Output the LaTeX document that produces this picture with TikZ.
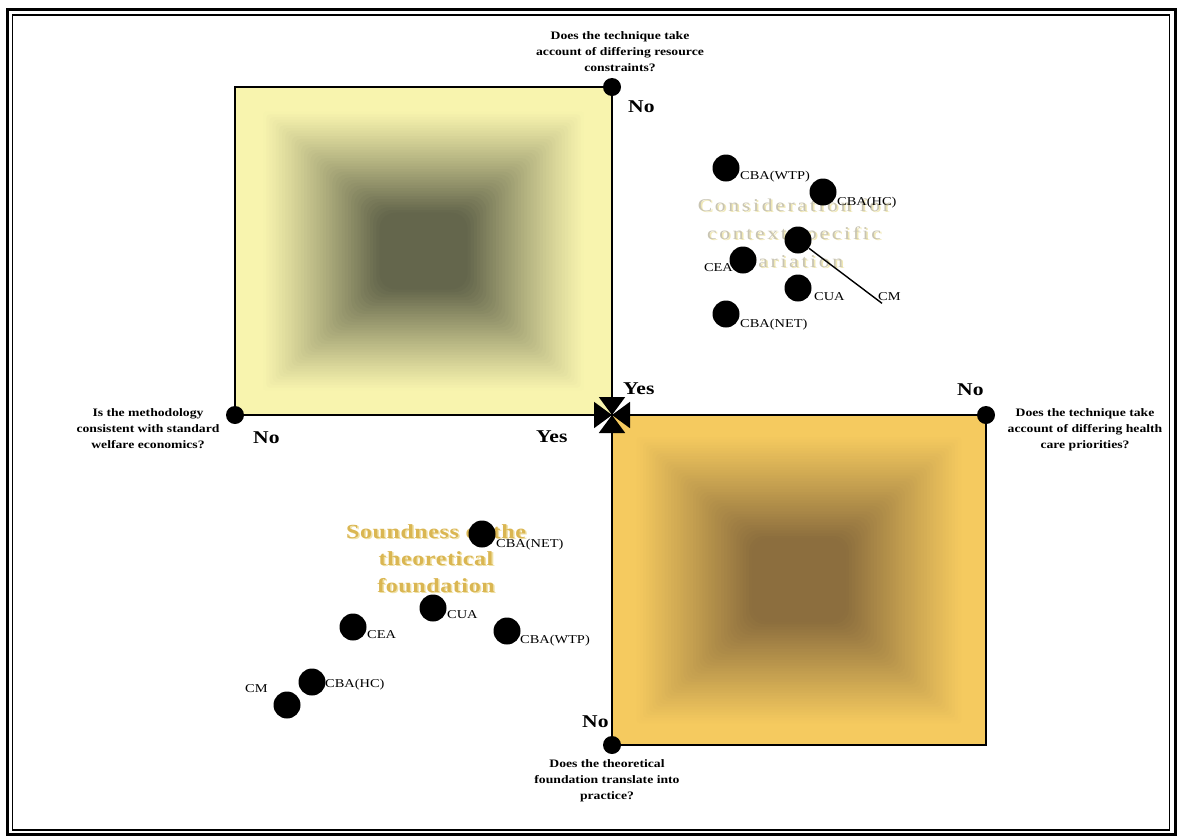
\documentclass[tikz,border=0pt]{standalone}
\usepackage{fontspec}
\setmainfont{Liberation Serif}[FakeStretch=1.2]
\usetikzlibrary{arrows.meta}
\definecolor{ullight}{RGB}{248,244,174}
\definecolor{uldark}{RGB}{100,102,76}
\definecolor{lrlight}{RGB}{245,202,95}
\definecolor{lrdark}{RGB}{140,110,62}
\definecolor{consText}{RGB}{200,196,178}
\definecolor{consShadow}{RGB}{240,232,180}
\definecolor{soundText}{RGB}{218,182,82}
\definecolor{soundShadow}{RGB}{240,225,165}
\begin{document}
\begin{tikzpicture}[x=1pt,y=-1pt,
  sq/.style={draw=black,line width=1.4pt},
  axdot/.style={circle,fill=black,inner sep=0pt,minimum size=18pt},
  dot/.style={circle,fill=black,inner sep=0pt,minimum size=27pt},
  lab/.style={inner sep=0pt,font=\fontsize{12}{12}\selectfont},
  yn/.style={inner sep=0pt,anchor=base west,font=\bfseries\fontsize{18}{18}\selectfont},
  q/.style={inner sep=0pt,align=center,anchor=north,font=\bfseries\fontsize{11.4}{16}\selectfont},
  axisline/.style={line width=2pt,-{Triangle[length=18pt,width=26pt]}},
  cons/.style={inner sep=0pt,align=center,anchor=north,font=\fontsize{18}{28}\selectfont\addfontfeature{LetterSpace=15}},
  sound/.style={inner sep=0pt,align=center,anchor=north,font=\bfseries\fontsize{20}{27}\selectfont\addfontfeature{LetterSpace=3}},
]
\useasboundingbox (0,0) rectangle (1181,836);
\fill[white] (0,0) rectangle (1181,836);
% frame
\draw[line width=3pt] (7,9.5) rectangle (1175,834);
\draw[line width=1.3pt] (12.5,15) rectangle (1169.5,830);

% upper-left square: soft square gradient
\coordinate (ulA) at (235,87);
\coordinate (ulC) at (612,415);
\foreach \i in {0,...,58}{
  \pgfmathsetmacro\s{min(max((\i/60-0.14)/0.62,0),1)}
  \pgfmathsetmacro\w{100*\s^1.1}
  \pgfmathsetmacro\r{min(0.35*\i,0.45*(164-\i*2.7333))}
  \fill[uldark!\w!ullight,rounded corners=\r pt]
    ({235+\i*3.1417},{87+\i*2.7333}) rectangle ({612-\i*3.1417},{415-\i*2.7333});
}
\draw[sq] (ulA) rectangle (ulC);

% lower-right square
\coordinate (lrA) at (612,415);
\coordinate (lrC) at (986,745);
\foreach \i in {0,...,58}{
  \pgfmathsetmacro\s{min(max((\i/60-0.12)/0.62,0),1)}
  \pgfmathsetmacro\w{100*\s^1.05}
  \pgfmathsetmacro\r{min(0.35*\i,0.45*(165-\i*2.75))}
  \fill[lrdark!\w!lrlight,rounded corners=\r pt]
    ({612+\i*3.1167},{415+\i*2.75}) rectangle ({986-\i*3.1167},{745-\i*2.75});
}
\draw[sq] (lrA) rectangle (lrC);

% axes
\coordinate (ctr) at (612,415);
\node[axdot] (top) at (612,87) {};
\node[axdot] (left) at (235,415) {};
\node[axdot] (right) at (986,415) {};
\node[axdot] (bottom) at (612,745) {};
\draw[axisline] (top) -- (ctr);
\draw[axisline] (left) -- (ctr);
\draw[axisline] (right) -- (ctr);
\draw[axisline] (bottom) -- (ctr);

% Yes / No labels
\node[yn] (noTop) at (628,112) {No};
\node[yn] (yesR) at (623,394) {Yes};
\node[yn] (noR) at (957,395) {No};
\node[yn] (noL) at (253,443) {No};
\node[yn] (yesL) at (536,442) {Yes};
\node[yn] (noB) at (582,727) {No};

% questions
\node[q] (qTop) at (620,31) {Does the technique take\\account of differing resource\\constraints?};
\node[q] (qLeft) at (148,408) {Is the methodology\\consistent with standard\\welfare economics?};
\node[q] (qRight) at (1085,408) {Does the technique take\\account of differing health\\care priorities?};
\node[q] (qBottom) at (607,759) {Does the theoretical\\foundation translate into\\practice?};

% embossed headings
\node[cons,text=consShadow] at (795.5,200) {Consideration for\\context specific\\variation};
\node[cons,text=consText] (consT) at (794,199) {Consideration for\\context specific\\variation};
\node[sound,text=soundShadow] at (437.5,525) {Soundness of the\\theoretical\\foundation};
\node[sound,text=soundText] (soundT) at (436,524) {Soundness of the\\theoretical\\foundation};

% upper-right cluster
\node[dot] (uWTP) at (726,168) {};
\node[lab,anchor=base west] at (740,179) {CBA(WTP)};
\node[dot] (uHC) at (823,192) {};
\node[lab,anchor=base west] at (837,205) {CBA(HC)};
\node[dot] (uCM) at (798,240) {};
\node[lab,anchor=base west] (uCMl) at (878,300) {CM};
\draw[line width=1.4pt] (uCM) -- ([xshift=4pt,yshift=-3pt]uCMl.south west);
\node[dot] (uCEA) at (743,260) {};
\node[lab,anchor=base east] at (733,271) {CEA};
\node[dot] (uCUA) at (798,288) {};
\node[lab,anchor=base west] at (814,300) {CUA};
\node[dot] (uNET) at (726,314) {};
\node[lab,anchor=base west] at (740,327) {CBA(NET)};

% lower-left cluster
\node[dot] (lNET) at (482,534) {};
\node[lab,anchor=base west] at (496,547) {CBA(NET)};
\node[dot] (lCUA) at (433,608) {};
\node[lab,anchor=base west] at (447,618) {CUA};
\node[dot] (lCEA) at (353,627) {};
\node[lab,anchor=base west] at (367,638) {CEA};
\node[dot] (lWTP) at (507,631) {};
\node[lab,anchor=base west] at (520,643) {CBA(WTP)};
\node[dot] (lHC) at (312,682) {};
\node[lab,anchor=base west] at (325,687) {CBA(HC)};
\node[dot] (lCM) at (287,705) {};
\node[lab,anchor=base west] at (245,692) {CM};
\end{tikzpicture}
\end{document}
